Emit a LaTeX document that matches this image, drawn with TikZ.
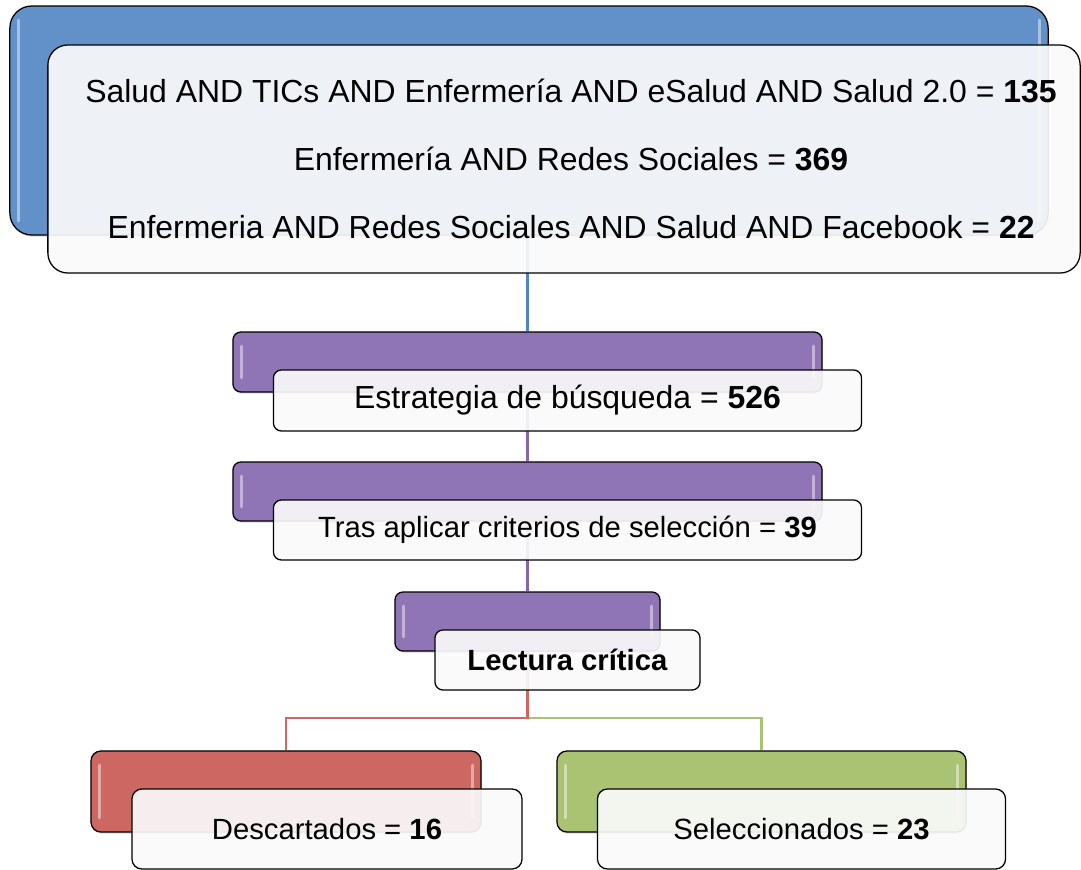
\documentclass[tikz,border=0pt]{standalone}
\usepackage{fontspec}
\setmainfont{Liberation Sans}
\usetikzlibrary{positioning, backgrounds, shadows}
\definecolor{sblue}{HTML}{4F85C2}
\definecolor{spurple}{HTML}{8466AE}
\definecolor{sred}{HTML}{CD6762}
\definecolor{sgreen}{HTML}{AAC373}
\tikzset{%
	back/.style={draw, line width=0.9pt, rounded corners=0.2cm,%
		drop shadow={opacity=0.3, shadow xshift=0.5pt, shadow yshift=-1.2pt},%
		path picture={
			\draw[white, opacity=0.45, line width=2pt, line cap=round]
				([shift={(0.22cm,-0.35cm)}]path picture bounding box.north west) -- ([shift={(0.22cm,0.35cm)}]path picture bounding box.south west)
				([shift={(-0.22cm,-0.35cm)}]path picture bounding box.north east) -- ([shift={(-0.22cm,0.35cm)}]path picture bounding box.south east);
		}},
	front/.style={draw, line width=0.9pt, rounded corners=0.2cm, fill=white!98!black,%
		fill opacity=0.92, text opacity=1, align=center},
	txtbig/.style={font=\fontsize{22.7pt}{48.4pt}\selectfont},
	txtmid/.style={font=\fontsize{20.8pt}{24pt}\selectfont},
	conn/.style={line width=1.8pt}
}
\begin{document}
\begin{tikzpicture}[x=0.025cm, y=-0.025cm]
	\useasboundingbox (0,0) rectangle (1081,870);

	\node[back, fill=sblue!90!white, minimum width=25.95cm, minimum height=5.725cm, rounded corners=0.55cm] (b0) at (529,120.5) {};
	\node[front, txtbig, minimum width=25.8cm, minimum height=5.7cm, rounded corners=0.5cm] (f0) at ([shift={(35,38.5)}]b0.center)
		{\hspace*{10pt}Salud AND TICs AND Enfermería AND eSalud AND Salud 2.0 = \textbf{135}\\
		 \hspace*{10pt}Enfermería AND Redes Sociales = \textbf{369}\\
		 \hspace*{10pt}Enfermeria AND Redes Sociales AND Salud AND Facebook = \textbf{22}};

	\node[back, fill=spurple!90!white, minimum width=14.725cm, minimum height=1.5cm] (b1) at (527.5,362) {};
	\node[front, txtbig, minimum width=14.7cm, minimum height=1.525cm] (f1) at ([shift={(40,38.5)}]b1.center)
		{Estrategia de búsqueda = \textbf{526}};

	\node[back, fill=spurple!90!white, minimum width=14.725cm, minimum height=1.475cm] (b2) at (527.5,491.5) {};
	\node[front, txtmid, minimum width=14.7cm, minimum height=1.5cm] (f2) at ([shift={(40,38.5)}]b2.center)
		{Tras aplicar criterios de selección = \textbf{39}};

	\node[back, fill=spurple!90!white, minimum width=6.625cm, minimum height=1.475cm] (b3) at (527.5,621.5) {};
	\node[front, txtmid, minimum width=6.625cm, minimum height=1.5cm] (f3) at ([shift={(40,38.5)}]b3.center)
		{\textbf{Lectura crítica}};

	\node[back, fill=sred, minimum width=9.75cm, minimum height=2.025cm, rounded corners=0.25cm] (b4) at (286,791.5) {};
	\node[front, txtmid, minimum width=9.75cm, minimum height=2cm, rounded corners=0.25cm] (f4) at ([shift={(41,37.5)}]b4.center)
		{Descartados = \textbf{16}};

	\node[back, fill=sgreen, minimum width=10.225cm, minimum height=2.025cm, rounded corners=0.25cm] (b5) at (761.5,791.5) {};
	\node[front, txtmid, minimum width=10.2cm, minimum height=2cm, rounded corners=0.25cm] (f5) at ([shift={(40,37.5)}]b5.center)
		{Seleccionados = \textbf{23}};

	\coordinate (split) at (527.5,718);

	\begin{scope}[on background layer]
		\draw[conn, sblue] (b1.north |- b0.south) -- (b1.north);
		\draw[conn, spurple] (b1.south) -- (b2.north);
		\draw[conn, spurple] (b2.south) -- (b3.north);
		\draw[conn, sgreen] (split) -| (b5.north);
		\draw[conn, sred] (b3.south) -- (split) -| (b4.north);
	\end{scope}
\end{tikzpicture}
\end{document}
